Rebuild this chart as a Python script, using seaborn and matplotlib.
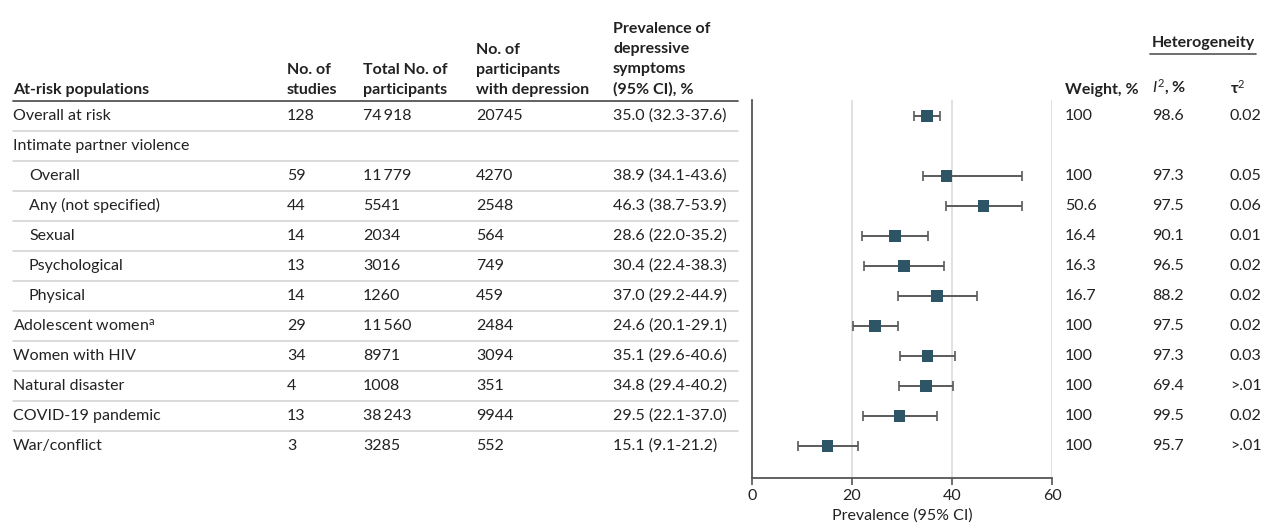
import numpy as np
import pandas as pd
import seaborn as sns
import matplotlib
matplotlib.use("Agg")
import matplotlib.pyplot as plt
from matplotlib.transforms import blended_transform_factory
from matplotlib.lines import Line2D

# ---------------- data ----------------
labels = ["Overall at risk", "Intimate partner violence", "Overall", "Any (not specified)",
          "Sexual", "Psychological", "Physical", "Adolescent women$^{\\mathrm{a}}$",
          "Women with HIV", "Natural disaster", "COVID-19 pandemic", "War/conflict"]
indent = [0, 0, 1, 1, 1, 1, 1, 0, 0, 0, 0, 0]
n_studies = ["128", "", "59", "44", "14", "13", "14", "29", "34", "4", "13", "3"]
n_total = ["74\u2009918", "", "11\u2009779", "5541", "2034", "3016", "1260", "11\u2009560",
           "8971", "1008", "38\u2009243", "3285"]
n_dep = ["20745", "", "4270", "2548", "564", "749", "459", "2484", "3094", "351", "9944", "552"]
prev_txt = ["35.0 (32.3-37.6)", "", "38.9 (34.1-43.6)", "46.3 (38.7-53.9)", "28.6 (22.0-35.2)",
            "30.4 (22.4-38.3)", "37.0 (29.2-44.9)", "24.6 (20.1-29.1)", "35.1 (29.6-40.6)",
            "34.8 (29.4-40.2)", "29.5 (22.1-37.0)", "15.1 (9.1-21.2)"]
weight = ["100", "", "100", "50.6", "16.4", "16.3", "16.7", "100", "100", "100", "100", "100"]
i2 = ["98.6", "", "97.3", "97.5", "90.1", "96.5", "88.2", "97.5", "97.3", "69.4", "99.5", "95.7"]
tau2 = ["0.02", "", "0.05", "0.06", "0.01", "0.02", "0.02", "0.02", "0.03", ">.01", "0.02", ">.01"]

# plotted estimates (as drawn in the figure)
prev = [35.0, np.nan, 38.9, 46.3, 28.6, 30.4, 37.0, 24.6, 35.1, 34.8, 29.5, 15.1]
ci_low = [32.3, np.nan, 34.1, 38.7, 22.0, 22.4, 29.2, 20.1, 29.6, 29.4, 22.1, 9.1]
ci_high = [37.6, np.nan, 53.9, 53.9, 35.2, 38.3, 44.9, 29.1, 40.6, 40.2, 37.0, 21.2]

df = pd.DataFrame({"row": np.arange(len(labels)), "prev": prev, "lo": ci_low, "hi": ci_high}).dropna()

# ---------------- figure ----------------
sns.set_theme(style="white")
plt.rcParams["font.family"] = ["Lato", "DejaVu Sans"]
plt.rcParams["mathtext.fontset"] = "custom"
plt.rcParams["mathtext.rm"] = "Lato"
plt.rcParams["mathtext.it"] = "Lato:italic"

W, H = 1267, 529
fig = plt.figure(figsize=(W / 100, H / 100), dpi=100)
ax = fig.add_axes([752 / W, 1 - 478 / H, 300 / W, 378 / H])

TXT = "#222222"
FS = 11.5
marker_col = "#2d5565"

ax.errorbar(df["prev"], df["row"], xerr=[df["prev"] - df["lo"], df["hi"] - df["prev"]],
            fmt="none", ecolor="#5a5a5a", elinewidth=1.4, capsize=3.6, capthick=1.2, zorder=2)
sns.scatterplot(data=df, x="prev", y="row", marker="s", s=72, color=marker_col,
                edgecolor="none", linewidth=0, ax=ax, zorder=3, legend=False)

ax.set_xlim(0, 60)
ax.set_ylim(12.07, -0.533)
ax.set_xticks([0, 20, 40, 60])
ax.set_yticks([])
for x in [20, 40, 60]:
    ax.axvline(x, color="#dcdcdc", lw=1.2, zorder=0)
for s in ["top", "right"]:
    ax.spines[s].set_visible(False)
for s in ["left", "bottom"]:
    ax.spines[s].set_visible(True)
    ax.spines[s].set_color("#555555")
    ax.spines[s].set_linewidth(1.3)
ax.tick_params(axis="x", direction="out", length=5, width=1.2, color="#555555",
               labelsize=FS, labelcolor=TXT, pad=3, bottom=True)
ax.set_xlabel("Prevalence (95% CI)", fontsize=FS, color=TXT, labelpad=4)
ax.set_ylabel("")

# ---------------- table ----------------
tr = blended_transform_factory(fig.transFigure, ax.transData)
col_x = {"label": 13, "studies": 287, "total": 363, "dep": 476, "prev": 613,
         "weight": 1065, "i2": 1152, "tau": 1230}

def fx(px):
    return px / W

for i in range(len(labels)):
    lx = col_x["label"] + (16 if indent[i] else 0)
    ax.text(fx(lx), i, labels[i], transform=tr, ha="left", va="center", fontsize=FS,
            color=TXT, clip_on=False)
    for key, arr in [("studies", n_studies), ("total", n_total), ("dep", n_dep),
                     ("prev", prev_txt), ("weight", weight), ("i2", i2), ("tau", tau2)]:
        ax.text(fx(col_x[key]), i, arr[i], transform=tr, ha="left", va="center",
                fontsize=FS, color=TXT, clip_on=False)

# row separators
for i in range(len(labels) - 1):
    fig.add_artist(Line2D([fx(13), fx(738)], [i + 0.5, i + 0.5], transform=tr,
                          color="#cfcfcf", lw=1.1))
fig.add_artist(Line2D([fx(13), fx(738)], [-0.5, -0.5], transform=tr, color="#555555", lw=1.3))

# headers
hy = 1 - 97 / H
hdrs = [("label", "At-risk populations"), ("studies", "No. of\nstudies"),
        ("total", "Total No. of\nparticipants"), ("dep", "No. of\nparticipants\nwith depression"),
        ("prev", "Prevalence of\ndepressive\nsymptoms\n(95% CI), %"), ("weight", "Weight, %"),
        ("i2", "$\\mathit{I}^2$, %"), ("tau", "τ$^2$")]
for key, t in hdrs:
    fig.text(fx(col_x[key]), hy, t, ha="left", va="bottom", fontsize=FS, fontweight="bold",
             color=TXT, linespacing=1.55)

fig.text(fx(1152), 1 - 43 / H, "Heterogeneity", ha="left", va="center", fontsize=FS,
         fontweight="bold", color=TXT)
fig.add_artist(Line2D([fx(1150), fx(1256)], [1 - 54 / H, 1 - 54 / H], transform=fig.transFigure,
                      color="#555555", lw=1.2))

fig.savefig("out.png", dpi=100)
